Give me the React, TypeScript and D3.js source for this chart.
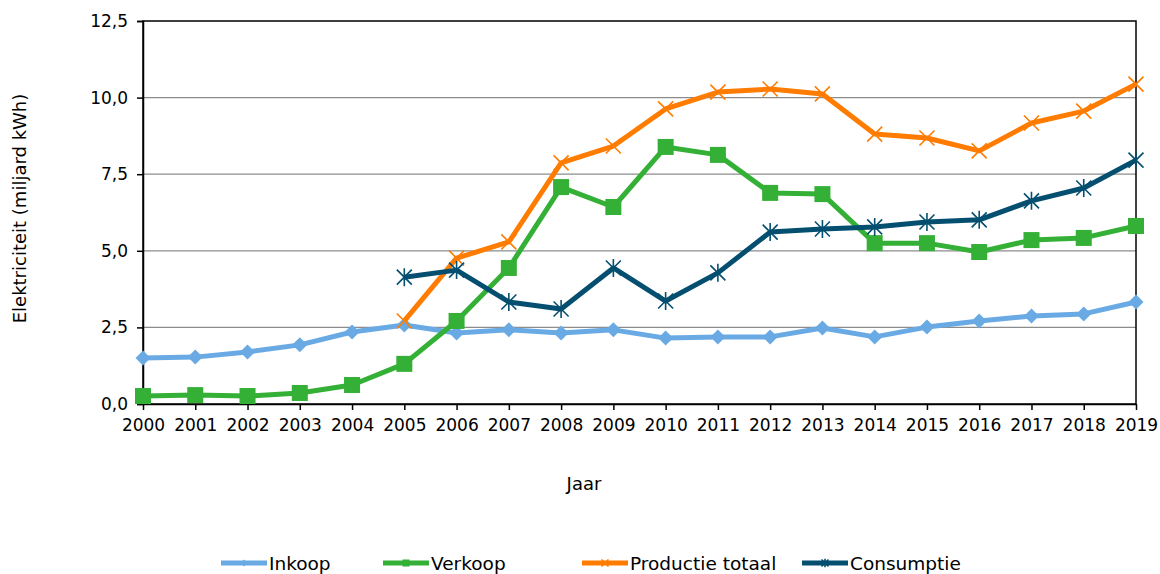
import React, { useEffect, useRef } from "react";
import * as d3 from "d3";

const years = ["2000", "2001", "2002", "2003", "2004", "2005", "2006", "2007", "2008", "2009",
  "2010", "2011", "2012", "2013", "2014", "2015", "2016", "2017", "2018", "2019"];

const inkoop = [1.50, 1.53, 1.70, 1.93, 2.35, 2.58, 2.32, 2.42, 2.32, 2.42,
  2.15, 2.19, 2.19, 2.48, 2.19, 2.51, 2.71, 2.87, 2.94, 3.33];
const verkoop = [0.26, 0.29, 0.26, 0.36, 0.62, 1.31, 2.71, 4.44, 7.08, 6.43,
  8.39, 8.13, 6.89, 6.85, 5.25, 5.25, 4.96, 5.35, 5.42, 5.81];
const productie = [null, null, null, null, null, 2.71, 4.76, 5.29, 7.87, 8.42,
  9.63, 10.18, 10.28, 10.12, 8.81, 8.68, 8.26, 9.17, 9.56, 10.44];
const consumptie = [null, null, null, null, null, 4.14, 4.37, 3.33, 3.10, 4.44,
  3.36, 4.28, 5.61, 5.71, 5.78, 5.94, 6.01, 6.63, 7.05, 7.96];

const yTicks = [0, 2.5, 5, 7.5, 10, 12.5];

const series = [
  { name: "Inkoop", values: inkoop, color: "#6aaae4", marker: "diamond" },
  { name: "Verkoop", values: verkoop, color: "#33b035", marker: "square" },
  { name: "Productie totaal", values: productie, color: "#ff7c00", marker: "x" },
  { name: "Consumptie", values: consumptie, color: "#044f70", marker: "star" },
];

const legendX = [221, 383, 582, 802];

function drawMarker(g, type, x, y, color, s) {
  if (type === "diamond") {
    g.append("path")
      .attr("d", `M${x},${y - s}L${x + s},${y}L${x},${y + s}L${x - s},${y}Z`)
      .attr("fill", color);
  } else if (type === "square") {
    g.append("rect").attr("x", x - s).attr("y", y - s)
      .attr("width", s * 2).attr("height", s * 2).attr("fill", color);
  } else if (type === "x") {
    g.append("path")
      .attr("d", `M${x - s},${y - s}L${x + s},${y + s}M${x - s},${y + s}L${x + s},${y - s}`)
      .attr("stroke", color).attr("stroke-width", 1.6);
  } else {
    g.append("path")
      .attr("d", `M${x - s},${y - s}L${x + s},${y + s}M${x - s},${y + s}L${x + s},${y - s}M${x},${y - s * 1.2}L${x},${y + s * 1.2}`)
      .attr("stroke", color).attr("stroke-width", 1.6);
  }
}

export default function App() {
  const ref = useRef(null);

  useEffect(() => {
    const svg = d3.select(ref.current);
    svg.selectAll("*").remove();

    const left = 143, right = 1136, top = 21, bottom = 404;
    const font = "DejaVu Sans, Verdana, sans-serif";

    const x = d3.scalePoint().domain(years).range([left, right]);
    const y = d3.scaleLinear().domain([0, 12.5]).range([bottom, top]);

    // gridlines
    svg.append("g").selectAll("line").data(yTicks.slice(1, -1)).join("line")
      .attr("x1", left).attr("x2", right)
      .attr("y1", (d) => y(d)).attr("y2", (d) => y(d))
      .attr("stroke", "#8c8c8c").attr("stroke-width", 1.3);

    // frame
    svg.append("rect").attr("x", left).attr("y", top)
      .attr("width", right - left).attr("height", bottom - top)
      .attr("fill", "none").attr("stroke", "#000").attr("stroke-width", 1.5);

    // axes
    const yAxis = svg.append("g").attr("transform", `translate(${left},0)`)
      .call(d3.axisLeft(y).tickValues(yTicks).tickSize(6).tickPadding(9)
        .tickFormat((d) => d3.format(".1f")(d).replace(".", ",")));
    yAxis.select(".domain").attr("stroke", "#000").attr("stroke-width", 1.5);
    yAxis.selectAll("line").attr("stroke", "#000").attr("stroke-width", 1.5);
    yAxis.selectAll("text").attr("font-family", font).attr("font-size", 17).attr("fill", "#000");

    const xAxis = svg.append("g").attr("transform", `translate(0,${bottom})`)
      .call(d3.axisBottom(x).tickSize(6).tickPadding(9).tickSizeOuter(0));
    xAxis.select(".domain").attr("stroke", "#000").attr("stroke-width", 1.5);
    xAxis.selectAll("line").attr("stroke", "#000").attr("stroke-width", 1.5);
    xAxis.selectAll("text").attr("font-family", font).attr("font-size", 17).attr("fill", "#000");

    // axis titles
    svg.append("text").attr("transform", `translate(26,${(top + bottom) / 2 - 4}) rotate(-90)`)
      .attr("text-anchor", "middle").attr("font-family", font).attr("font-size", 18)
      .text("Elektriciteit (miljard kWh)");
    svg.append("text").attr("x", 584).attr("y", 490)
      .attr("text-anchor", "middle").attr("font-family", font).attr("font-size", 18)
      .text("Jaar");

    const sizes = { diamond: 7.5, square: 8, x: 7.5, star: 7.5 };

    series.forEach((s) => {
      const pts = years.map((yr, i) => [yr, s.values[i]]).filter((p) => p[1] != null);
      const line = d3.line().x((d) => x(d[0])).y((d) => y(d[1]));
      svg.append("path").attr("d", line(pts))
        .attr("fill", "none").attr("stroke", s.color).attr("stroke-width", 5)
        .attr("stroke-linejoin", "round");
      const mg = svg.append("g");
      pts.forEach((p) => drawMarker(mg, s.marker, x(p[0]), y(p[1]), s.color, sizes[s.marker]));
    });

    // legend
    const lg = svg.append("g");
    series.forEach((s, i) => {
      const lx = legendX[i], ly = 563;
      lg.append("line").attr("x1", lx).attr("x2", lx + 46).attr("y1", ly).attr("y2", ly)
        .attr("stroke", s.color).attr("stroke-width", 5);
      drawMarker(lg, s.marker, lx + 23, ly, s.color, 3.5);
      lg.append("text").attr("x", lx + 48).attr("y", ly + 7)
        .attr("font-family", font).attr("font-size", 18.5).text(s.name);
    });
  }, []);

  return (
    <svg ref={ref} width={1160} height={574}
      style={{ position: "absolute", left: 0, top: 0, background: "#fff" }} />
  );
}
